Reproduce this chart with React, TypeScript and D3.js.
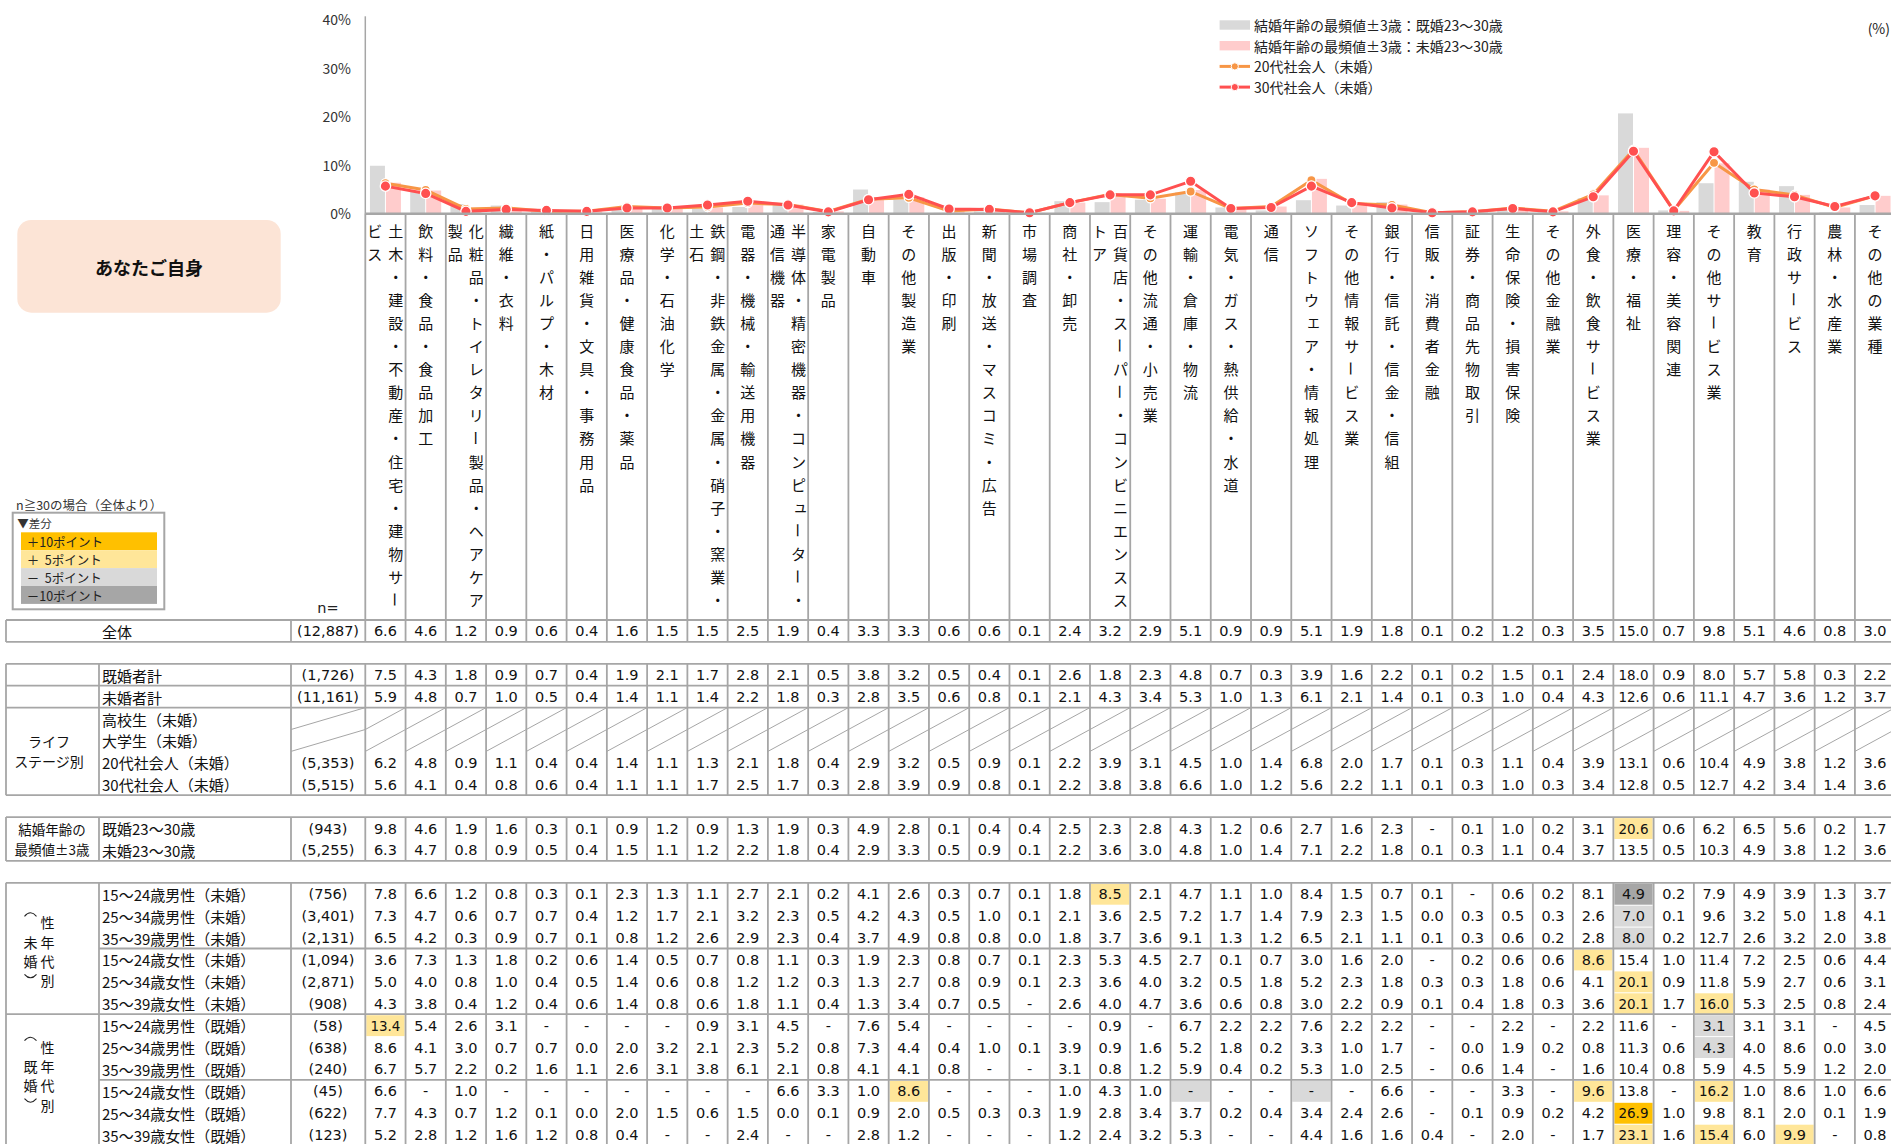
import * as d3 from 'd3'

// industries (header columns)
const industries = [
  '土木・建設・不動産・住宅・建物サービス',
  '飲料・食品・食品加工',
  '化粧品・トイレタリー製品・ヘアケア製品',
  '繊維・衣料',
  '紙・パルプ・木材',
  '日用雑貨・文具・事務用品',
  '医療品・健康食品・薬品',
  '化学・石油化学',
  '鉄鋼・非鉄金属・金属・硝子・窯業・土石',
  '電器・機械・輸送用機器',
  '半導体・精密機器・コンピューター・通信機器',
  '家電製品',
  '自動車',
  'その他製造業',
  '出版・印刷',
  '新聞・放送・マスコミ・広告',
  '市場調査',
  '商社・卸売',
  '百貨店・スーパー・コンビニエンスストア',
  'その他流通・小売業',
  '運輸・倉庫・物流',
  '電気・ガス・熱供給・水道',
  '通信',
  'ソフトウェア・情報処理',
  'その他情報サービス業',
  '銀行・信託・信金・信組',
  '信販・消費者金融',
  '証券・商品先物取引',
  '生命保険・損害保険',
  'その他金融業',
  '外食・飲食サービス業',
  '医療・福祉',
  '理容・美容関連',
  'その他サービス業',
  '教育',
  '行政サービス',
  '農林・水産業',
  'その他の業種',
]

// null = "-"
const total = [6.6, 4.6, 1.2, 0.9, 0.6, 0.4, 1.6, 1.5, 1.5, 2.5, 1.9, 0.4, 3.3, 3.3, 0.6, 0.6, 0.1, 2.4, 3.2, 2.9, 5.1, 0.9, 0.9, 5.1, 1.9, 1.8, 0.1, 0.2, 1.2, 0.3, 3.5, 15.0, 0.7, 9.8, 5.1, 4.6, 0.8, 3.0]
const marriedTotal = [7.5, 4.3, 1.8, 0.9, 0.7, 0.4, 1.9, 2.1, 1.7, 2.8, 2.1, 0.5, 3.8, 3.2, 0.5, 0.4, 0.1, 2.6, 1.8, 2.3, 4.8, 0.7, 0.3, 3.9, 1.6, 2.2, 0.1, 0.2, 1.5, 0.1, 2.4, 18.0, 0.9, 8.0, 5.7, 5.8, 0.3, 2.2]
const singleTotal = [5.9, 4.8, 0.7, 1.0, 0.5, 0.4, 1.4, 1.1, 1.4, 2.2, 1.8, 0.3, 2.8, 3.5, 0.6, 0.8, 0.1, 2.1, 4.3, 3.4, 5.3, 1.0, 1.3, 6.1, 2.1, 1.4, 0.1, 0.3, 1.0, 0.4, 4.3, 12.6, 0.6, 11.1, 4.7, 3.6, 1.2, 3.7]
const worker20s = [6.2, 4.8, 0.9, 1.1, 0.4, 0.4, 1.4, 1.1, 1.3, 2.1, 1.8, 0.4, 2.9, 3.2, 0.5, 0.9, 0.1, 2.2, 3.9, 3.1, 4.5, 1.0, 1.4, 6.8, 2.0, 1.7, 0.1, 0.3, 1.1, 0.4, 3.9, 13.1, 0.6, 10.4, 4.9, 3.8, 1.2, 3.6]
const worker30s = [5.6, 4.1, 0.4, 0.8, 0.6, 0.4, 1.1, 1.1, 1.7, 2.5, 1.7, 0.3, 2.8, 3.9, 0.9, 0.8, 0.1, 2.2, 3.8, 3.8, 6.6, 1.0, 1.2, 5.6, 2.2, 1.1, 0.1, 0.3, 1.0, 0.3, 3.4, 12.8, 0.5, 12.7, 4.2, 3.4, 1.4, 3.6]
const modeMarried = [9.8, 4.6, 1.9, 1.6, 0.3, 0.1, 0.9, 1.2, 0.9, 1.3, 1.9, 0.3, 4.9, 2.8, 0.1, 0.4, 0.4, 2.5, 2.3, 2.8, 4.3, 1.2, 0.6, 2.7, 1.6, 2.3, null, 0.1, 1.0, 0.2, 3.1, 20.6, 0.6, 6.2, 6.5, 5.6, 0.2, 1.7]
const modeSingle = [6.3, 4.7, 0.8, 0.9, 0.5, 0.4, 1.5, 1.1, 1.2, 2.2, 1.8, 0.4, 2.9, 3.3, 0.5, 0.9, 0.1, 2.2, 3.6, 3.0, 4.8, 1.0, 1.4, 7.1, 2.2, 1.8, 0.1, 0.3, 1.1, 0.4, 3.7, 13.5, 0.5, 10.3, 4.9, 3.8, 1.2, 3.6]
const m15_24s = [7.8, 6.6, 1.2, 0.8, 0.3, 0.1, 2.3, 1.3, 1.1, 2.7, 2.1, 0.2, 4.1, 2.6, 0.3, 0.7, 0.1, 1.8, 8.5, 2.1, 4.7, 1.1, 1.0, 8.4, 1.5, 0.7, 0.1, null, 0.6, 0.2, 8.1, 4.9, 0.2, 7.9, 4.9, 3.9, 1.3, 3.7]
const m25_34s = [7.3, 4.7, 0.6, 0.7, 0.7, 0.4, 1.2, 1.7, 2.1, 3.2, 2.3, 0.5, 4.2, 4.3, 0.5, 1.0, 0.1, 2.1, 3.6, 2.5, 7.2, 1.7, 1.4, 7.9, 2.3, 1.5, 0.0, 0.3, 0.5, 0.3, 2.6, 7.0, 0.1, 9.6, 3.2, 5.0, 1.8, 4.1]
const m35_39s = [6.5, 4.2, 0.3, 0.9, 0.7, 0.1, 0.8, 1.2, 2.6, 2.9, 2.3, 0.4, 3.7, 4.9, 0.8, 0.8, 0.0, 1.8, 3.7, 3.6, 9.1, 1.3, 1.2, 6.5, 2.1, 1.1, 0.1, 0.3, 0.6, 0.2, 2.8, 8.0, 0.2, 12.7, 2.6, 3.2, 2.0, 3.8]
const f15_24s = [3.6, 7.3, 1.3, 1.8, 0.2, 0.6, 1.4, 0.5, 0.7, 0.8, 1.1, 0.3, 1.9, 2.3, 0.8, 0.7, 0.1, 2.3, 5.3, 4.5, 2.7, 0.1, 0.7, 3.0, 1.6, 2.0, null, 0.2, 0.6, 0.6, 8.6, 15.4, 1.0, 11.4, 7.2, 2.5, 0.6, 4.4]
const f25_34s = [5.0, 4.0, 0.8, 1.0, 0.4, 0.5, 1.4, 0.6, 0.8, 1.2, 1.2, 0.3, 1.3, 2.7, 0.8, 0.9, 0.1, 2.3, 3.6, 4.0, 3.2, 0.5, 1.8, 5.2, 2.3, 1.8, 0.3, 0.3, 1.8, 0.6, 4.1, 20.1, 0.9, 11.8, 5.9, 2.7, 0.6, 3.1]
const f35_39s = [4.3, 3.8, 0.4, 1.2, 0.4, 0.6, 1.4, 0.8, 0.6, 1.8, 1.1, 0.4, 1.3, 3.4, 0.7, 0.5, null, 2.6, 4.0, 4.7, 3.6, 0.6, 0.8, 3.0, 2.2, 0.9, 0.1, 0.4, 1.8, 0.3, 3.6, 20.1, 1.7, 16.0, 5.3, 2.5, 0.8, 2.4]
const m15_24m = [13.4, 5.4, 2.6, 3.1, null, null, null, null, 0.9, 3.1, 4.5, null, 7.6, 5.4, null, null, null, null, 0.9, null, 6.7, 2.2, 2.2, 7.6, 2.2, 2.2, null, null, 2.2, null, 2.2, 11.6, null, 3.1, 3.1, 3.1, null, 4.5]
const m25_34m = [8.6, 4.1, 3.0, 0.7, 0.7, 0.0, 2.0, 3.2, 2.1, 2.3, 5.2, 0.8, 7.3, 4.4, 0.4, 1.0, 0.1, 3.9, 0.9, 1.6, 5.2, 1.8, 0.2, 3.3, 1.0, 1.7, null, 0.0, 1.9, 0.2, 0.8, 11.3, 0.6, 4.3, 4.0, 8.6, 0.0, 3.0]
const m35_39m = [6.7, 5.7, 2.2, 0.2, 1.6, 1.1, 2.6, 3.1, 3.8, 6.1, 2.1, 0.8, 4.1, 4.1, 0.8, null, null, 3.1, 0.8, 1.2, 5.9, 0.4, 0.2, 5.3, 1.0, 2.5, null, 0.6, 1.4, null, 1.6, 10.4, 0.8, 5.9, 4.5, 5.9, 1.2, 2.0]
const f15_24m = [6.6, null, 1.0, null, null, null, null, null, null, null, 6.6, 3.3, 1.0, 8.6, null, null, null, 1.0, 4.3, 1.0, null, null, null, null, null, 6.6, null, null, 3.3, null, 9.6, 13.8, null, 16.2, 1.0, 8.6, 1.0, 6.6]
const f25_34m = [7.7, 4.3, 0.7, 1.2, 0.1, 0.0, 2.0, 1.5, 0.6, 1.5, 0.0, 0.1, 0.9, 2.0, 0.5, 0.3, 0.3, 1.9, 2.8, 3.4, 3.7, 0.2, 0.4, 3.4, 2.4, 2.6, null, 0.1, 0.9, 0.2, 4.2, 26.9, 1.0, 9.8, 8.1, 2.0, 0.1, 1.9]
const f35_39m = [5.2, 2.8, 1.2, 1.6, 1.2, 0.8, 0.4, null, null, 2.4, null, null, 2.8, 1.2, null, null, null, 1.2, 2.4, 3.2, 5.3, null, null, 4.4, 1.6, 1.6, 0.4, null, 2.0, null, 1.7, 23.1, 1.6, 15.4, 6.0, 9.9, null, 0.8]

const yTicks = [0, 10, 20, 30, 40]

const legendItems = [
  { label: '結婚年齢の最頻値±3歳：既婚23～30歳', kind: 'bar', color: '#d9d9d9' },
  { label: '結婚年齢の最頻値±3歳：未婚23～30歳', kind: 'bar', color: '#ffcccc' },
  { label: '20代社会人（未婚）', kind: 'line', color: '#f79646' },
  { label: '30代社会人（未婚）', kind: 'line', color: '#ff5050' },
]

const diffLegend = [
  { label: '＋10ポイント', color: '#ffc000' },
  { label: '＋  5ポイント', color: '#ffe699' },
  { label: '－  5ポイント', color: '#d9d9d9' },
  { label: '－10ポイント', color: '#a6a6a6' },
]

// table rows: label, n, values, row slot
const tableRows: { label: string; n: string; values: (number | null)[] | null; slot: number }[] = [
  { label: '全体', n: '(12,887)', values: total, slot: 0 },
  { label: '既婚者計', n: '(1,726)', values: marriedTotal, slot: 2 },
  { label: '未婚者計', n: '(11,161)', values: singleTotal, slot: 3 },
  { label: '高校生（未婚）', n: '', values: null, slot: 4 },
  { label: '大学生（未婚）', n: '', values: null, slot: 5 },
  { label: '20代社会人（未婚）', n: '(5,353)', values: worker20s, slot: 6 },
  { label: '30代社会人（未婚）', n: '(5,515)', values: worker30s, slot: 7 },
  { label: '既婚23～30歳', n: '(943)', values: modeMarried, slot: 9 },
  { label: '未婚23～30歳', n: '(5,255)', values: modeSingle, slot: 10 },
  { label: '15～24歳男性（未婚）', n: '(756)', values: m15_24s, slot: 12 },
  { label: '25～34歳男性（未婚）', n: '(3,401)', values: m25_34s, slot: 13 },
  { label: '35～39歳男性（未婚）', n: '(2,131)', values: m35_39s, slot: 14 },
  { label: '15～24歳女性（未婚）', n: '(1,094)', values: f15_24s, slot: 15 },
  { label: '25～34歳女性（未婚）', n: '(2,871)', values: f25_34s, slot: 16 },
  { label: '35～39歳女性（未婚）', n: '(908)', values: f35_39s, slot: 17 },
  { label: '15～24歳男性（既婚）', n: '(58)', values: m15_24m, slot: 18 },
  { label: '25～34歳男性（既婚）', n: '(638)', values: m25_34m, slot: 19 },
  { label: '35～39歳男性（既婚）', n: '(240)', values: m35_39m, slot: 20 },
  { label: '15～24歳女性（既婚）', n: '(45)', values: f15_24m, slot: 21 },
  { label: '25～34歳女性（既婚）', n: '(622)', values: f25_34m, slot: 22 },
  { label: '35～39歳女性（既婚）', n: '(123)', values: f35_39m, slot: 23 },
]

const W = 1891
const H = 1144
const plotLeft = 365.3
const colW = 40.26
const rowH = 21.9
const tableTop = 620
const leftEdge = 6
const subCol = 99
const nCol = 291
const jp = "'Noto Sans CJK JP', 'Noto Sans', sans-serif"
const num = "'DejaVu Sans', sans-serif"
const grid = '#a6a6a6'
const smallKana = 'ァィゥェォャュョッ'

function highlight(v: number | null, base: number) {
  const d = (v ?? 0) - base
  if (d >= 9.95) return '#ffc000'
  if (d >= 4.95) return '#ffe699'
  if (d <= -9.95) return '#a6a6a6'
  if (d <= -4.95) return '#d9d9d9'
  return null
}

function VChars({ chars, x, y0, step, size }: { chars: string[]; x: number; y0: number; step: number; size: number }) {
  return (
    <g>
      {chars.map((ch, j) => {
        const cy = y0 + j * step
        const small = smallKana.includes(ch)
        return (
          <text
            key={j}
            x={x + (small ? 2 : 0)}
            y={cy - (small ? 2 : 0)}
            textAnchor="middle"
            dominantBaseline="central"
            fontSize={size}
            fontFamily={jp}
            fill="#111"
            transform={ch === 'ー' ? `rotate(90, ${x}, ${cy})` : undefined}
          >
            {ch}
          </text>
        )
      })}
    </g>
  )
}

export default function App() {
  const n = industries.length
  const x = d3.scaleBand<number>().domain(d3.range(n)).range([plotLeft, plotLeft + n * colW])
  const inner = d3.scaleBand<string>().domain(['m', 's']).range([0, colW]).paddingInner(0.0625).paddingOuter(0.29)
  const y = d3.scaleLinear().domain([0, 40]).range([213.3, 19.3])
  const cx = (i: number) => (x(i) as number) + x.bandwidth() / 2
  const line = d3.line<number>().x((_, i) => cx(i)).y((d) => y(d))
  const rowTop = (s: number) => tableTop + s * rowH
  const colEdges = d3.range(n + 1).map((k) => plotLeft + k * colW)

  const blocks = [
    { from: 0, to: 1, split: false },
    { from: 2, to: 8, split: true },
    { from: 9, to: 11, split: true },
    { from: 12, to: 24, split: true },
  ]
  const fullLines = [0, 1, 2, 3, 4, 8, 9, 11, 12, 18, 24]
  const partLines = [15, 21]

  return (
    <svg width={W} height={H} style={{ position: 'absolute', left: 0, top: 0, background: '#fff' }}>
      {/* y axis */}
      <line x1={plotLeft} x2={plotLeft} y1={y(40) - 3} y2={y(0)} stroke={grid} strokeWidth={1.5} />
      {yTicks.map((t) => (
        <text key={t} x={351} y={y(t)} textAnchor="end" dominantBaseline="central" fontSize={14} fontFamily={jp} fill="#333">
          {t}%
        </text>
      ))}

      {/* bars */}
      {modeMarried.map((v, i) => (
        <rect key={`bm${i}`} x={(x(i) as number) + (inner('m') as number)} width={inner.bandwidth()} y={y(v ?? 0)} height={y(0) - y(v ?? 0)} fill="#d9d9d9" />
      ))}
      {modeSingle.map((v, i) => (
        <rect key={`bs${i}`} x={(x(i) as number) + (inner('s') as number)} width={inner.bandwidth()} y={y(v ?? 0)} height={y(0) - y(v ?? 0)} fill="#ffcccc" />
      ))}

      {/* lines */}
      <path d={line(worker20s) ?? ''} fill="none" stroke="#f79646" strokeWidth={3} />
      {worker20s.map((v, i) => (
        <circle key={`p20${i}`} cx={cx(i)} cy={y(v)} r={4.6} fill="#f79646" stroke="#fff" strokeWidth={1.3} />
      ))}
      <path d={line(worker30s) ?? ''} fill="none" stroke="#ff5050" strokeWidth={3} />
      {worker30s.map((v, i) => (
        <circle key={`p30${i}`} cx={cx(i)} cy={y(v)} r={5.2} fill="#ff5050" stroke="#fff" strokeWidth={1.3} />
      ))}

      {/* x axis */}
      <line x1={plotLeft} x2={W} y1={y(0) + 0.5} y2={y(0) + 0.5} stroke={grid} strokeWidth={2.5} />

      {/* legend */}
      {legendItems.map((it, k) => {
        const ly = 25 + k * 20.7
        return (
          <g key={it.label}>
            {it.kind === 'bar' ? (
              <rect x={1219.6} y={ly - 4.7} width={30.4} height={9.4} fill={it.color} />
            ) : (
              <g>
                <line x1={1219.6} x2={1250} y1={ly} y2={ly} stroke={it.color} strokeWidth={3} />
                <circle cx={1234.8} cy={ly} r={3.6} fill={it.color} stroke="#fff" strokeWidth={1} />
              </g>
            )}
            <text x={1254} y={ly} dominantBaseline="central" fontSize={14} fontFamily={jp} fill="#222">
              {it.label}
            </text>
          </g>
        )
      })}
      <text x={1890} y={28} textAnchor="end" dominantBaseline="central" fontSize={14} fontFamily={jp} fill="#222">
        (%)
      </text>

      {/* title box */}
      <rect x={17.3} y={220} width={263.4} height={92.7} rx={14} fill="#fce4d6" />
      <text x={149} y={267} textAnchor="middle" dominantBaseline="central" fontSize={18} fontWeight="bold" fontFamily={jp} fill="#111">
        あなたご自身
      </text>

      {/* diff legend */}
      <text x={16} y={504} dominantBaseline="central" fontSize={12.5} fontFamily={jp} fill="#333">
        n≧30の場合（全体より）
      </text>
      <rect x={12.7} y={512.7} width={151.6} height={96.6} fill="#fff" stroke={grid} strokeWidth={2} />
      <text x={17.3} y={523} dominantBaseline="central" fontSize={11.5} fontFamily={jp} fill="#333">
        ▼差分
      </text>
      {diffLegend.map((d, k) => {
        const top = 532.3 + k * 17.9
        return (
          <g key={d.label}>
            <rect x={21} y={top} width={136} height={17.9} fill={d.color} />
            <text x={26.7} y={top + 9} dominantBaseline="central" fontSize={12.5} fontFamily={jp} fill="#222" style={{ whiteSpace: 'pre' }}>
              {d.label}
            </text>
          </g>
        )
      })}

      {/* header grid + labels */}
      {colEdges.map((ex, k) => (
        <line key={`hv${k}`} x1={ex} x2={ex} y1={y(0)} y2={tableTop} stroke={grid} strokeWidth={1.8} />
      ))}
      {industries.map((name, i) => {
        const chars = Array.from(name)
        const chunks = d3.range(0, chars.length, 17).map((s) => chars.slice(s, s + 17))
        const left = x(i) as number
        return (
          <g key={`hd${i}`}>
            {chunks.map((c, k) => (
              <VChars
                key={k}
                chars={c}
                x={chunks.length === 1 ? cx(i) : k === 0 ? left + 30.5 : left + 9.5}
                y0={230}
                step={23.1}
                size={15}
              />
            ))}
          </g>
        )
      })}
      <text x={328} y={608} textAnchor="middle" dominantBaseline="central" fontSize={14.5} fontFamily={num} fill="#222">
        n=
      </text>

      {/* table highlights */}
      {tableRows.map((r) =>
        r.values
          ? r.values.map((v, i) => {
              const c = r.slot === 0 ? null : highlight(v, total[i])
              return c ? (
                <rect key={`hl${r.slot}-${i}`} x={(x(i) as number) + 1} y={rowTop(r.slot) + 1} width={colW - 2} height={rowH - 1} fill={c} />
              ) : null
            })
          : null,
      )}

      {/* slashes */}
      {tableRows
        .filter((r) => !r.values)
        .map((r) =>
          [nCol, ...colEdges.slice(0, -1)].map((sx, k) => {
            const ex = k === 0 ? plotLeft : sx + colW
            return (
              <line key={`sl${r.slot}-${k}`} x1={sx} y1={rowTop(r.slot + 1)} x2={ex} y2={rowTop(r.slot)} stroke={grid} strokeWidth={1} />
            )
          }),
        )}

      {/* table lines */}
      {fullLines.map((s) => (
        <line key={`fl${s}`} x1={leftEdge} x2={W} y1={rowTop(s)} y2={rowTop(s)} stroke={grid} strokeWidth={1.8} />
      ))}
      {partLines.map((s) => (
        <line key={`pl${s}`} x1={subCol} x2={W} y1={rowTop(s)} y2={rowTop(s)} stroke={grid} strokeWidth={1.8} />
      ))}
      {blocks.map((b, k) => (
        <g key={`bl${k}`}>
          {[leftEdge, ...(b.split ? [subCol] : []), nCol, ...colEdges].map((vx, j) => (
            <line key={j} x1={vx} x2={vx} y1={rowTop(b.from)} y2={rowTop(b.to)} stroke={grid} strokeWidth={1.8} />
          ))}
        </g>
      ))}

      {/* row labels, n and values */}
      {tableRows.map((r) => {
        const my = rowTop(r.slot) + rowH / 2 + 0.5
        return (
          <g key={`row${r.slot}`}>
            <text x={102} y={my} dominantBaseline="central" fontSize={15} fontFamily={jp} fill="#111">
              {r.label}
            </text>
            <text x={328} y={my} textAnchor="middle" dominantBaseline="central" fontSize={14.5} fontFamily={num} fill="#111">
              {r.n}
            </text>
            {r.values
              ? r.values.map((v, i) => {
                  const s = v === null ? '-' : v.toFixed(1)
                  return (
                    <text
                      key={i}
                      x={cx(i)}
                      y={my}
                      textAnchor="middle"
                      dominantBaseline="central"
                      fontSize={14.5}
                      fontFamily={num}
                      fill="#111"
                      textLength={s.length > 3 ? 30 : undefined}
                      lengthAdjust={s.length > 3 ? 'spacingAndGlyphs' : undefined}
                    >
                      {s}
                    </text>
                  )
                })
              : null}
          </g>
        )
      })}

      {/* group labels */}
      <text x={49} y={rowTop(6) - 10} textAnchor="middle" dominantBaseline="central" fontSize={14} fontFamily={jp} fill="#111">
        ライフ
      </text>
      <text x={49} y={rowTop(6) + 10} textAnchor="middle" dominantBaseline="central" fontSize={14} fontFamily={jp} fill="#111">
        ステージ別
      </text>
      <text x={52} y={rowTop(10) - 10} textAnchor="middle" dominantBaseline="central" fontSize={13.5} fontFamily={jp} fill="#111">
        結婚年齢の
      </text>
      <text x={52} y={rowTop(10) + 10} textAnchor="middle" dominantBaseline="central" fontSize={13.5} fontFamily={jp} fill="#111">
        最頻値±3歳
      </text>
      {[
        { top: 922.3, tag: '未婚' },
        { top: 1046.7, tag: '既婚' },
      ].map((g) => (
        <g key={g.tag}>
          <VChars chars={Array.from('性年代別')} x={47.5} y0={g.top} step={19.3} size={14} />
          <VChars chars={Array.from(g.tag)} x={30.5} y0={g.top + 19.3} step={19.3} size={14} />
          <path d={`M24.5,${g.top - 6} Q30.5,${g.top - 13} 36.5,${g.top - 6}`} fill="none" stroke="#222" strokeWidth={1.1} />
          <path d={`M24.5,${g.top + 52} Q30.5,${g.top + 59} 36.5,${g.top + 52}`} fill="none" stroke="#222" strokeWidth={1.1} />
        </g>
      ))}
    </svg>
  )
}
